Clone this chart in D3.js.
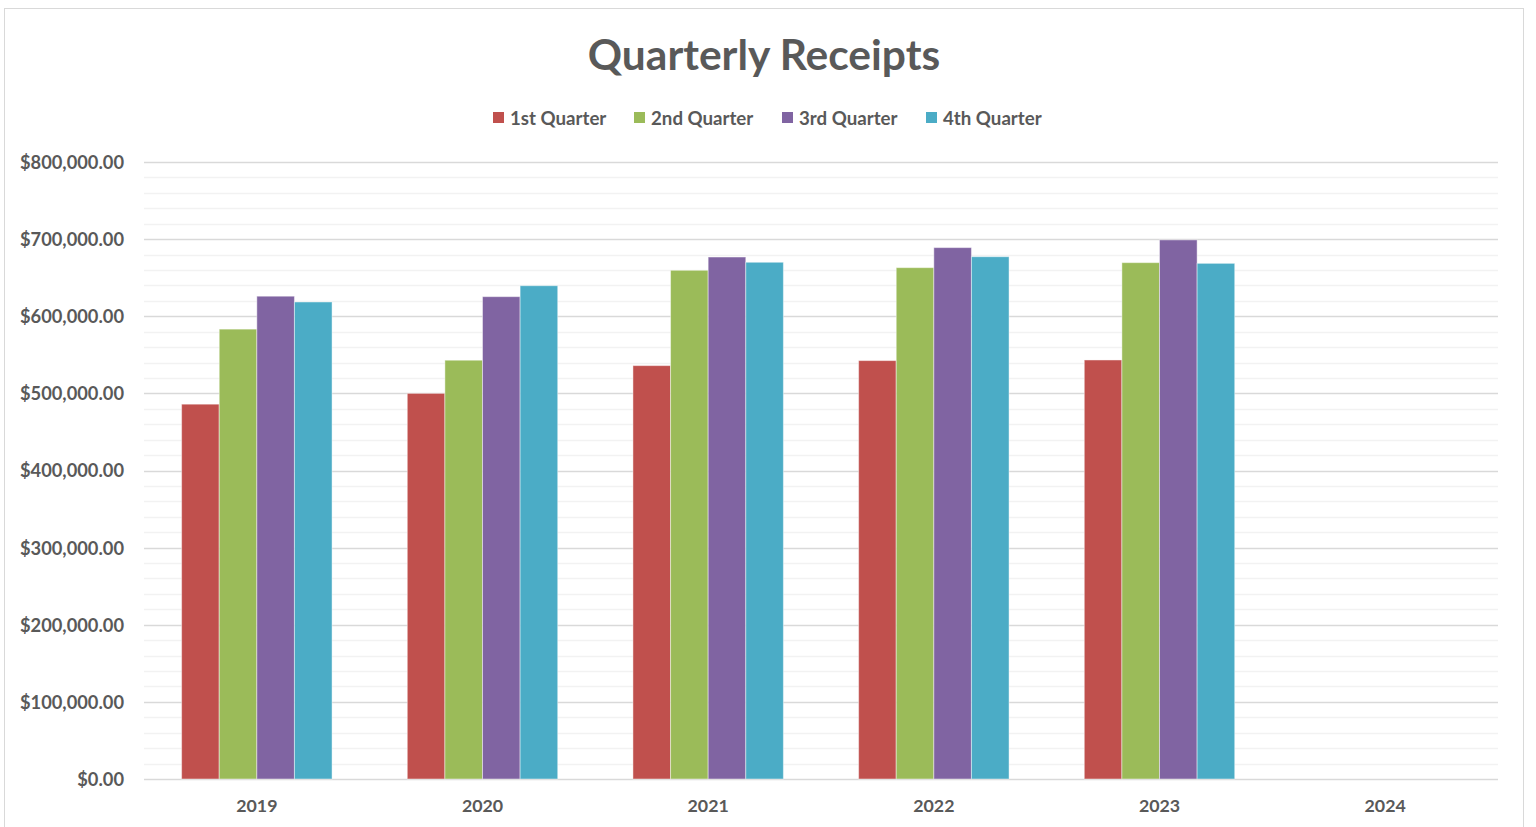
<!DOCTYPE html>
<html>
<head>
<meta charset="utf-8">
<script src="https://cdn.jsdelivr.net/npm/d3@7"></script>
<style>
    body { margin: 0; background: #ffffff; }
    svg text { font-family: Lato, "Open Sans", sans-serif; font-weight: bold; fill: #595959; }
</style>
</head>
<body>
<div id="chart"></div>
<script>
    var years = ['2019', '2020', '2021', '2022', '2023', '2024'];
    var seriesNames = ['1st Quarter', '2nd Quarter', '3rd Quarter', '4th Quarter'];
    var q1 = [486000, 500000, 536000, 542500, 543300, null];
    var q2 = [583300, 543000, 659600, 663000, 669500, null];
    var q3 = [626000, 625400, 676800, 689000, 699000, null];
    var q4 = [618500, 639600, 670000, 677200, 668600, null];
    var colors = ['#C0504D', '#9BBB59', '#8064A2', '#4BACC6'];
    var yTicks = [0, 100000, 200000, 300000, 400000, 500000, 600000, 700000, 800000];

    function draw()
    {
        var series = [q1, q2, q3, q4];
        var W = 1536, H = 827;
        var svg = d3.select('#chart').append('svg').attr('width', W).attr('height', H);

        // chart frame
        svg.append('rect')
            .attr('x', 4.5).attr('y', 8.5).attr('width', 1519).attr('height', 830)
            .attr('fill', '#ffffff').attr('stroke', '#d9d9d9');

        var plotL = 144, plotR = 1498, plotT = 162, plotB = 779;

        var x = d3.scaleBand().domain(years).range([plotL, plotR]).paddingInner(0).paddingOuter(0);
        var y = d3.scaleLinear().domain([0, 800000]).range([plotB, plotT]);

        // minor grid
        var minor = d3.range(0, 800001, 20000).filter(function(v) { return v % 100000 !== 0; });
        svg.append('g').selectAll('line').data(minor).enter().append('line')
            .attr('x1', plotL).attr('x2', plotR)
            .attr('y1', function(d) { return Math.round(y(d)) + 0.5; })
            .attr('y2', function(d) { return Math.round(y(d)) + 0.5; })
            .attr('stroke', '#f2f2f2').attr('stroke-width', 1.3);

        // major grid
        svg.append('g').selectAll('line').data(yTicks).enter().append('line')
            .attr('x1', plotL).attr('x2', plotR)
            .attr('y1', function(d) { return Math.round(y(d)) + 0.5; })
            .attr('y2', function(d) { return Math.round(y(d)) + 0.5; })
            .attr('stroke', '#d9d9d9').attr('stroke-width', 1.3);

        // y axis labels
        var fmt = d3.format('$,.2f');
        var yAxis = d3.axisLeft(y).tickValues(yTicks).tickFormat(fmt).tickSize(0).tickPadding(20);
        var ya = svg.append('g').attr('transform', 'translate(' + plotL + ',0)').call(yAxis);
        ya.select('.domain').remove();
        ya.selectAll('text').attr('font-size', 18.3).attr('dy', '0.35em')
            .style('font-family', 'Lato, sans-serif').style('fill', '#595959');

        // x axis labels
        var xAxis = d3.axisBottom(x).tickSize(0).tickPadding(20);
        var xa = svg.append('g').attr('transform', 'translate(0,' + plotB + ')').call(xAxis);
        xa.select('.domain').remove();
        xa.selectAll('text').attr('font-size', 17.8)
            .style('font-family', 'Lato, sans-serif').style('fill', '#595959');

        // bars
        var inner = d3.scaleBand().domain(d3.range(4)).range([0, x.bandwidth()]).paddingInner(0).paddingOuter(1);
        series.forEach(function(vals, si) {
            svg.append('g').selectAll('rect')
                .data(years.map(function(yr, i) { return { year: yr, v: vals[i] }; }).filter(function(d) { return d.v != null; }))
                .enter().append('rect')
                .attr('x', function(d) { return x(d.year) + inner(si); })
                .attr('width', inner.bandwidth())
                .attr('y', function(d) { return y(d.v); })
                .attr('height', function(d) { return y(0) - y(d.v); })
                .attr('fill', colors[si])
                .attr('stroke', 'rgba(255,255,255,0.45)').attr('stroke-width', 1);
        });

        // title
        svg.append('text').attr('x', 764).attr('y', 70).attr('text-anchor', 'middle')
            .attr('font-size', 42.5).text('Quarterly Receipts');

        // legend
        var legendX = [493, 634, 782, 926];
        var lg = svg.append('g').selectAll('g').data(seriesNames).enter().append('g')
            .attr('transform', function(d, i) { return 'translate(' + legendX[i] + ',112)'; });
        lg.append('rect').attr('width', 11).attr('height', 11).attr('fill', function(d, i) { return colors[i]; });
        lg.append('text').attr('x', 17).attr('y', 6).attr('dy', '0.35em').attr('font-size', 18.7).text(function(d) { return d; });
    }
    window.addEventListener('load', draw, false);
</script>
</body>
</html>
